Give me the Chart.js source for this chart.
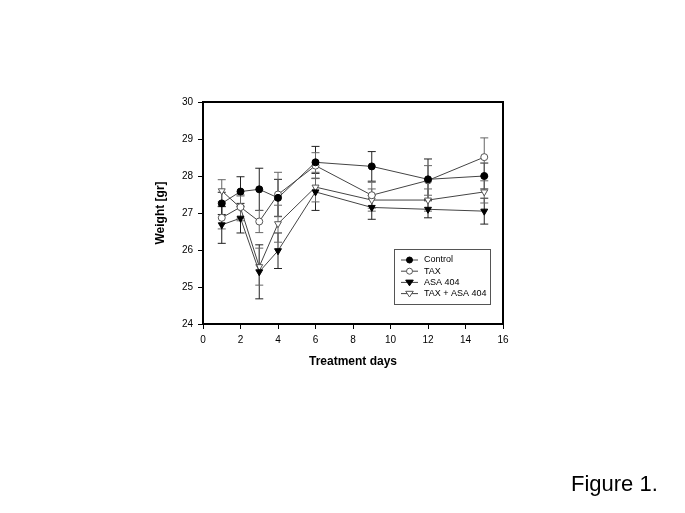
<!DOCTYPE html>
<html>
<head>
<meta charset="utf-8">
<script src="https://cdn.jsdelivr.net/npm/chart.js@4/dist/chart.umd.min.js"></script>
<style>
  html, body { margin: 0; padding: 0; background: #fff; }
  #c { display: block; }
</style>
</head>
<body>
<canvas id="c" width="685" height="513"></canvas>
<script>
// treatment days and mean body weights [gr]
const days = [1, 2, 3, 4, 6, 9, 12, 15];
const control = [27.26, 27.58, 27.64, 27.41, 28.37, 28.26, 27.91, 28.00];
const tax = [26.87, 27.16, 26.77, 27.50, 28.28, 27.48, 27.88, 28.51];
const asa404 = [26.68, 26.86, 25.41, 25.98, 27.57, 27.15, 27.10, 27.05];
const taxAsa404 = [27.60, 27.14, 25.55, 26.71, 27.70, 27.35, 27.35, 27.57];

// error bar half-widths
const controlErr = [0.30, 0.40, 0.57, 0.50, 0.43, 0.40, 0.55, 0.35];
const taxErr = [0.30, 0.30, 0.30, 0.60, 0.35, 0.35, 0.40, 0.52];
const asa404Err = [0.50, 0.40, 0.73, 0.48, 0.50, 0.32, 0.23, 0.35];
const taxAsa404Err = [0.30, 0.35, 0.50, 0.50, 0.40, 0.30, 0.30, 0.30];

const xTicks = [0, 2, 4, 6, 8, 10, 12, 14, 16];
const yTicks = [24, 25, 26, 27, 28, 29, 30];

const lineCol = '#444';

function pts(vals) {
  return days.map((d, i) => ({ x: d, y: vals[i] }));
}

function series(label, vals, errs, fill, style, rot) {
  return {
    label: label,
    data: pts(vals),
    errs: errs,
    borderColor: lineCol,
    borderWidth: 1,
    pointStyle: style,
    pointRotation: rot,
    pointRadius: style === 'triangle' ? 4 : 3.5,
    pointBackgroundColor: fill,
    pointBorderColor: fill === '#000' ? '#000' : '#555',
    pointBorderWidth: 1,
    tension: 0
  };
}

const errorBars = {
  id: 'errorBars',
  beforeDatasetsDraw(chart) {
    const ctx = chart.ctx;
    const xs = chart.scales.x, ys = chart.scales.y;
    ctx.save();
    ctx.lineWidth = 1;
    chart.data.datasets.forEach(ds => {
      ctx.strokeStyle = ds.pointBackgroundColor === '#000' ? '#222' : '#666';
      ds.data.forEach((p, i) => {
        const px = xs.getPixelForValue(p.x);
        const top = ys.getPixelForValue(p.y + ds.errs[i]);
        const bot = ys.getPixelForValue(p.y - ds.errs[i]);
        ctx.beginPath();
        ctx.moveTo(px, top); ctx.lineTo(px, bot);
        ctx.moveTo(px - 4, top); ctx.lineTo(px + 4, top);
        ctx.moveTo(px - 4, bot); ctx.lineTo(px + 4, bot);
        ctx.stroke();
      });
    });
    ctx.restore();
  }
};

function drawMarker(ctx, ds, x, y) {
  ctx.beginPath();
  if (ds.pointStyle === 'triangle') {
    const r = 3.8;
    ctx.moveTo(x - r, y - r * 0.6);
    ctx.lineTo(x + r, y - r * 0.6);
    ctx.lineTo(x, y + r * 0.9);
    ctx.closePath();
  } else {
    ctx.arc(x, y, 3, 0, Math.PI * 2);
  }
  ctx.fill();
  ctx.stroke();
}

const frameAndLegend = {
  id: 'frameAndLegend',
  afterDraw(chart) {
    const ctx = chart.ctx;
    const a = chart.chartArea;
    ctx.save();
    ctx.strokeStyle = '#000';
    ctx.lineWidth = 2;
    ctx.strokeRect(a.left, a.top, a.right - a.left, a.bottom - a.top);

    // legend box
    const lx = 394, ly = 249, lw = 96, lh = 55;
    ctx.lineWidth = 1;
    ctx.strokeStyle = '#555';
    ctx.strokeRect(lx + 0.5, ly + 0.5, lw, lh);
    ctx.font = '9px "Liberation Sans", Arial, sans-serif';
    ctx.textBaseline = 'middle';
    chart.data.datasets.forEach((ds, i) => {
      const y = ly + 11 + i * 11.2;
      ctx.strokeStyle = lineCol;
      ctx.beginPath();
      ctx.moveTo(401, y); ctx.lineTo(418, y);
      ctx.stroke();
      ctx.fillStyle = ds.pointBackgroundColor;
      ctx.strokeStyle = ds.pointBorderColor;
      drawMarker(ctx, ds, 409.5, y);
      ctx.fillStyle = '#000';
      ctx.fillText(ds.label, 424, y);
    });

    ctx.font = '22px "Liberation Sans", Arial, sans-serif';
    ctx.textBaseline = 'alphabetic';
    ctx.fillStyle = '#000';
    ctx.fillText('Figure 1.', 571, 491);
    ctx.restore();
  }
};

new Chart(document.getElementById('c'), {
  type: 'line',
  data: {
    datasets: [
      series('Control', control, controlErr, '#000', 'circle', 0),
      series('TAX', tax, taxErr, '#fff', 'circle', 0),
      series('ASA 404', asa404, asa404Err, '#000', 'triangle', 180),
      series('TAX + ASA 404', taxAsa404, taxAsa404Err, '#fff', 'triangle', 180)
    ]
  },
  options: {
    responsive: false,
    animation: false,
    layout: { padding: { left: 150, top: 102, right: 182, bottom: 129 } },
    plugins: { legend: { display: false }, tooltip: { enabled: false } },
    scales: {
      x: {
        type: 'linear',
        min: 0, max: 16,
        afterFit(s) { s.height = 60; },
        afterBuildTicks(s) { s.ticks = xTicks.map(v => ({ value: v })); },
        ticks: { color: '#000', padding: 5, font: { size: 10, family: '"Liberation Sans", Arial, sans-serif' } },
        grid: { drawOnChartArea: false, tickLength: 5, color: '#000', tickWidth: 1 },
        border: { color: '#000', width: 2 },
        title: {
          display: true, text: 'Treatment days', color: '#000',
          font: { size: 12, weight: 'bold', family: '"Liberation Sans", Arial, sans-serif' },
          padding: { top: 0, bottom: 15 }
        }
      },
      y: {
        min: 24, max: 30,
        afterFit(s) { s.width = 53; },
        afterBuildTicks(s) { s.ticks = yTicks.map(v => ({ value: v })); },
        ticks: { color: '#000', padding: 5, font: { size: 10, family: '"Liberation Sans", Arial, sans-serif' } },
        grid: { drawOnChartArea: false, tickLength: 5, color: '#000', tickWidth: 1 },
        border: { color: '#000', width: 2 },
        title: {
          display: true, text: 'Weight [gr]', color: '#000',
          font: { size: 12, weight: 'bold', family: '"Liberation Sans", Arial, sans-serif' },
          padding: { top: 3, bottom: 0 }
        }
      }
    }
  },
  plugins: [errorBars, frameAndLegend]
});
</script>
</body>
</html>
